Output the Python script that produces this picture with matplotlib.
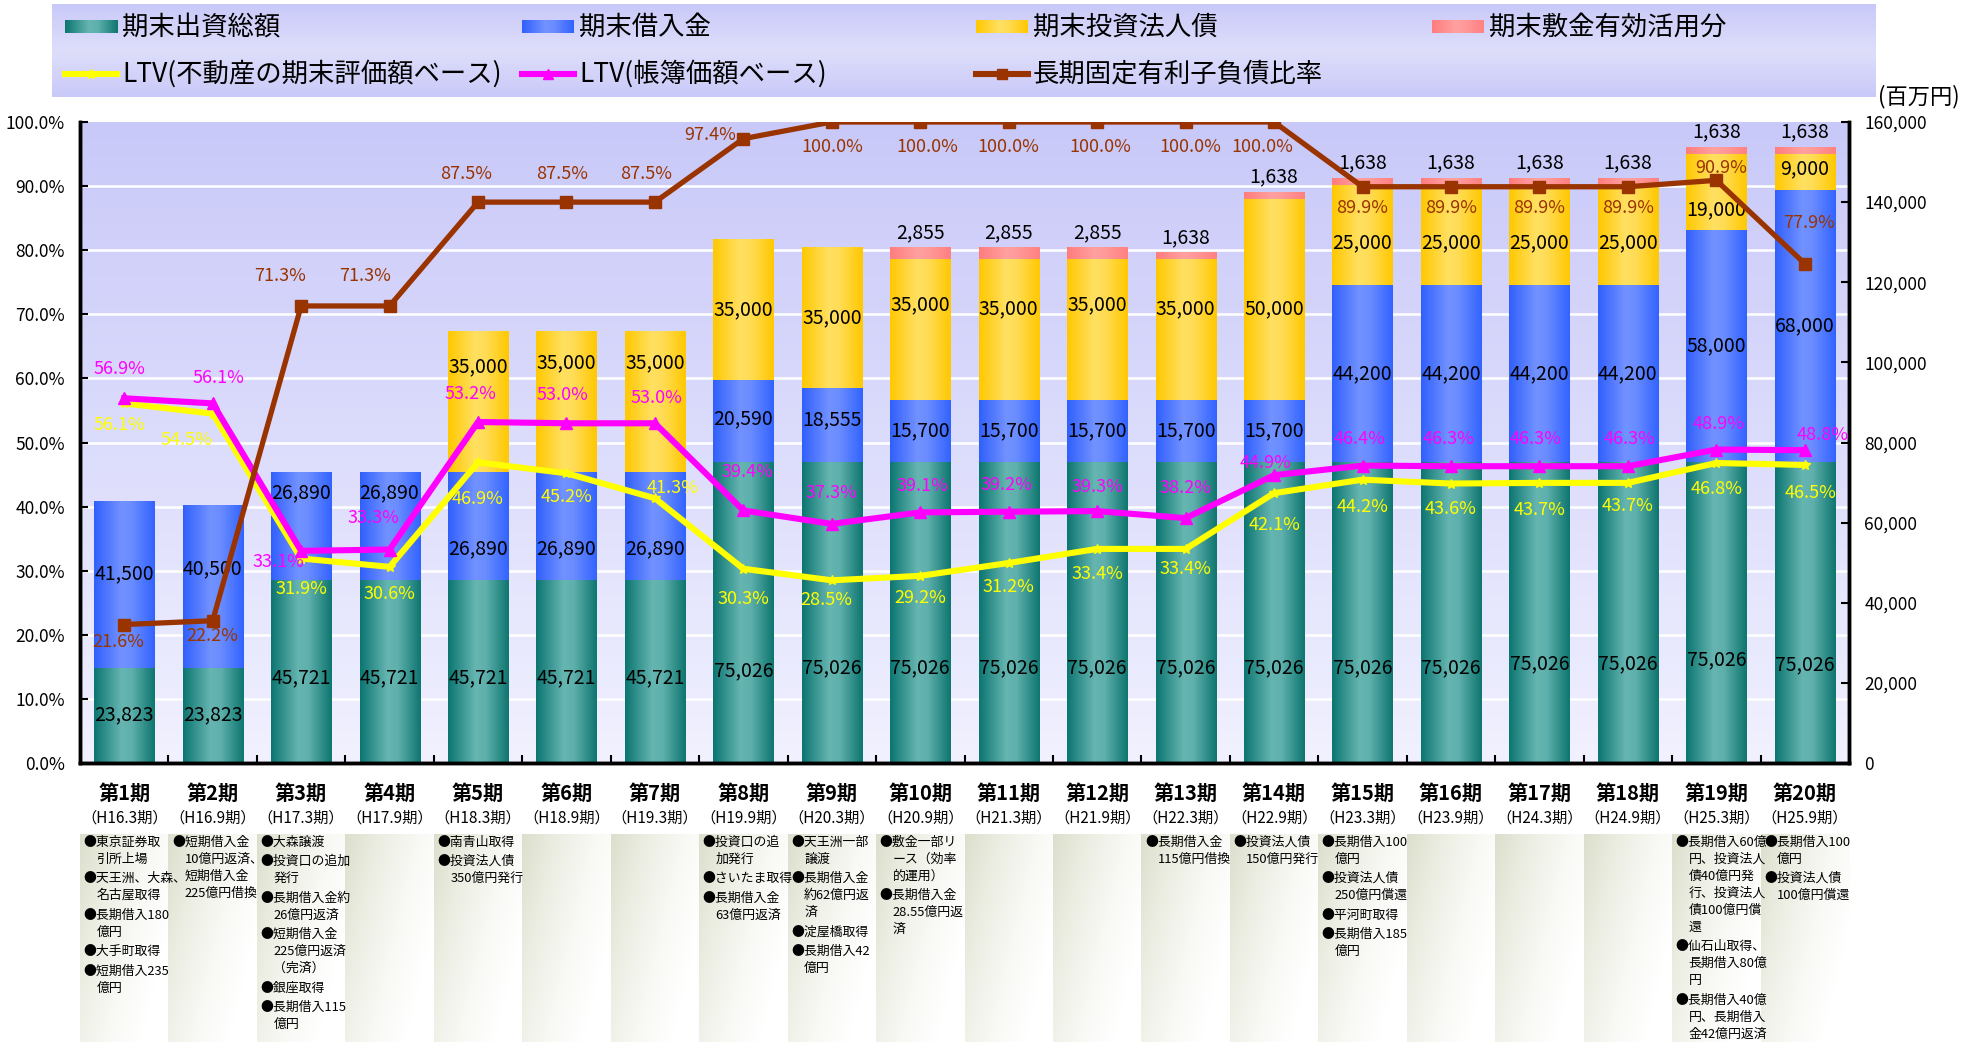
import numpy as np
import matplotlib
matplotlib.use('Agg')
import matplotlib.pyplot as plt
from matplotlib.colors import LinearSegmentedColormap
from matplotlib.ticker import FuncFormatter, MultipleLocator

plt.rcParams['font.family'] = ['Noto Sans CJK JP', 'DejaVu Sans']

# ---------------- data ----------------
periods = ['第1期', '第2期', '第3期', '第4期', '第5期', '第6期', '第7期', '第8期', '第9期', '第10期',
           '第11期', '第12期', '第13期', '第14期', '第15期', '第16期', '第17期', '第18期', '第19期', '第20期']
period_terms = ['（H16.3期）', '（H16.9期）', '（H17.3期）', '（H17.9期）', '（H18.3期）', '（H18.9期）',
                '（H19.3期）', '（H19.9期）', '（H20.3期）', '（H20.9期）', '（H21.3期）', '（H21.9期）',
                '（H22.3期）', '（H22.9期）', '（H23.3期）', '（H23.9期）', '（H24.3期）', '（H24.9期）',
                '（H25.3期）', '（H25.9期）']

equity = [23823, 23823, 45721, 45721, 45721, 45721, 45721, 75026, 75026, 75026,
          75026, 75026, 75026, 75026, 75026, 75026, 75026, 75026, 75026, 75026]
loans = [41500, 40500, 26890, 26890, 26890, 26890, 26890, 20590, 18555, 15700,
         15700, 15700, 15700, 15700, 44200, 44200, 44200, 44200, 58000, 68000]
bonds = [0, 0, 0, 0, 35000, 35000, 35000, 35000, 35000, 35000,
         35000, 35000, 35000, 50000, 25000, 25000, 25000, 25000, 19000, 9000]
deposits = [0, 0, 0, 0, 0, 0, 0, 0, 0, 2855,
            2855, 2855, 1638, 1638, 1638, 1638, 1638, 1638, 1638, 1638]

ltv_appraisal = [56.1, 54.5, 31.9, 30.6, 46.9, 45.2, 41.3, 30.3, 28.5, 29.2,
                 31.2, 33.4, 33.4, 42.1, 44.2, 43.6, 43.7, 43.7, 46.8, 46.5]
ltv_book = [56.9, 56.1, 33.1, 33.3, 53.2, 53.0, 53.0, 39.4, 37.3, 39.1,
            39.2, 39.3, 38.2, 44.9, 46.4, 46.3, 46.3, 46.3, 48.9, 48.8]
fixed_ratio = [21.6, 22.2, 71.3, 71.3, 87.5, 87.5, 87.5, 97.4, 100.0, 100.0,
               100.0, 100.0, 100.0, 100.0, 89.9, 89.9, 89.9, 89.9, 90.9, 77.9]

events = [
    "●東京証券取\n引所上場\n●天王洲、大森、\n名古屋取得\n●長期借入180\n億円\n●大手町取得\n●短期借入235\n億円",
    "●短期借入金\n10億円返済、\n短期借入金\n225億円借換",
    "●大森譲渡\n●投資口の追加\n発行\n●長期借入金約\n26億円返済\n●短期借入金\n225億円返済\n（完済）\n●銀座取得\n●長期借入115\n億円",
    "",
    "●南青山取得\n●投資法人債\n350億円発行",
    "",
    "",
    "●投資口の追\n加発行\n●さいたま取得\n●長期借入金\n63億円返済",
    "●天王洲一部\n譲渡\n●長期借入金\n約62億円返\n済\n●淀屋橋取得\n●長期借入42\n億円",
    "●敷金一部リ\nース（効率\n的運用）\n●長期借入金\n28.55億円返\n済",
    "",
    "",
    "●長期借入金\n115億円借換",
    "●投資法人債\n150億円発行",
    "●長期借入100\n億円\n●投資法人債\n250億円償還\n●平河町取得\n●長期借入185\n億円",
    "",
    "",
    "",
    "●長期借入60億\n円、投資法人\n債40億円発\n行、投資法人\n債100億円償\n還\n●仙石山取得、\n長期借入80億\n円\n●長期借入40億\n円、長期借入\n金42億円返済",
    "●長期借入100\n億円\n●投資法人債\n100億円償還",
]

legend_bars = ['期末出資総額', '期末借入金', '期末投資法人債', '期末敷金有効活用分']
legend_lines = ['LTV(不動産の期末評価額ベース)', 'LTV(帳簿価額ベース)', '長期固定有利子負債比率']

# label placement tweaks (percent of axis / category units)
equity_label_dy = [0, 0, -1, -1, -1, -1, -1, -9.0, -8.6, -8.6, -8.6, -8.6, -8.6, -8.6, -8.6, -8.6, -7.9, -7.9, -7.4, -8.2]
loan_label_dy = [1.7, 2.8, 5.1, 5.1, -3.6, -3.6, -3.6, 0.4, 0.8, 0, 0, 0, 0, 0, 0, 0, 0, 0, 0, 0]
bond_label_dy = [0, 0, 0, 0, 5.5, 6.1, 6.1, 0, 0, 3.9, 3.2, 3.9, 3.2, -1.4, -1.2, -1.2, -1.2, -1.2, -2.7, 0.5]
fixed_dy = [-2.7, -2.4, 4.7, 4.7, 4.4, 4.4, 4.4, 0.6, -3.9, -3.9, -3.9, -3.9, -3.9, -3.9, -3.3, -3.3, -3.3, -3.3, 1.9, 6.3]
fixed_dx = [-0.07, 0, -0.24, -0.28, -0.14, -0.05, -0.1, -0.37, 0, 0.08, 0, 0.03, 0.05, -0.13, 0, 0, 0, 0, 0.05, 0.05]
book_dy = [4.6, 4.0, -1.7, 4.9, 4.4, 4.4, 4.0, 6.0, 4.8, 4.1, 4.2, 3.8, 4.7, 1.9, 4.1, 4.2, 4.2, 4.2, 4.0, 2.4]
book_dx = [-0.05, 0.07, -0.26, -0.18, -0.08, -0.05, 0.02, 0.05, 0, 0.02, -0.03, 0, 0, -0.1, -0.03, -0.03, -0.04, 0.02, 0.03, 0.2]
appr_dy = [-3.4, -4.1, -4.8, -4.2, -5.7, -3.7, 1.6, -4.7, -3.1, -3.5, -3.8, -3.9, -3.2, -5.0, -4.3, -4.0, -4.2, -3.6, -4.1, -4.4]
appr_dx = [-0.05, -0.3, 0, 0, 0, 0, 0.2, 0, -0.06, 0, 0, 0, 0, 0, 0, 0, 0, 0, 0, 0.07]

# ---------------- styles ----------------
teal_stops = [(0, '#0b7570'), (0.45, '#66b5b1'), (0.62, '#5eb0ac'), (1, '#0e756f')]
blue_stops = [(0, '#305ffc'), (0.45, '#7292ff'), (0.62, '#6a8cff'), (1, '#3263ff')]
yellow_stops = [(0, '#ffc800'), (0.45, '#ffe062'), (0.62, '#ffdc55'), (1, '#ffc800')]
pink_stops = [(0, '#ff7c7c'), (0.45, '#ffa0a0'), (0.62, '#ff9a9a'), (1, '#ff8080')]
C_APPR, C_BOOK, C_FIX = '#ffff00', '#ff00ff', '#993300'

W, H = 1982, 1042
fig = plt.figure(figsize=(W / 100, H / 100), dpi=100)
L, R, T, B = 80, 1849, 122, 763
ax = fig.add_axes([L / W, 1 - B / H, (R - L) / W, (B - T) / H])
ax2 = ax.twinx()

n = len(periods)
x = np.arange(n)
YMAX = 160000
hg = np.linspace(0, 1, 256).reshape(1, -1)


def cmap_of(stops):
    return LinearSegmentedColormap.from_list('c', stops)


# background
bg = LinearSegmentedColormap.from_list('bg', ['#f1f1ff', '#dcdcfc', '#c9c9f9'])
ax.imshow(np.linspace(0, 1, 256).reshape(-1, 1), extent=[-0.5, n - 0.5, 0, YMAX], origin='lower',
          cmap=bg, aspect='auto', zorder=0)
for k in range(1, 10):
    ax.axhline(k * YMAX / 10, color='white', lw=1.8, zorder=0.5)

# stacked bars
bw = 0.68
bottom = np.zeros(n)
stacks = []
for vals, stops in [(equity, teal_stops), (loans, blue_stops), (bonds, yellow_stops), (deposits, pink_stops)]:
    v = np.array(vals, dtype=float)
    bars = ax.bar(x, v, bw, bottom=bottom, color='none', edgecolor='none', zorder=2)
    cm = cmap_of(stops)
    for p in bars:
        if p.get_height() <= 0:
            continue
        x0, y0 = p.get_x(), p.get_y()
        ax.imshow(hg, extent=[x0, x0 + p.get_width(), y0, y0 + p.get_height()], cmap=cm,
                  aspect='auto', zorder=2, interpolation='bilinear')
    stacks.append((v, bottom.copy()))
    bottom = bottom + v

PCT = YMAX / 100.0
lab_fs = 14
for (v, b), dys in zip(stacks[:3], [equity_label_dy, loan_label_dy, bond_label_dy]):
    for i in range(n):
        if v[i] <= 0:
            continue
        ax.text(x[i], b[i] + v[i] / 2 + dys[i] * PCT, f'{int(v[i]):,}', ha='center', va='center',
                fontsize=lab_fs, color='black', zorder=6)
v, b = stacks[3]
for i in range(n):
    if v[i] > 0:
        ax.text(x[i], b[i] + v[i] + 2.4 * PCT, f'{int(v[i]):,}', ha='center', va='center',
                fontsize=lab_fs, color='black', zorder=6)

# lines
ax2.plot(x, ltv_appraisal, color=C_APPR, lw=4.4, marker='*', ms=7, zorder=3)
ax2.plot(x, ltv_book, color=C_BOOK, lw=4.4, marker='^', ms=8, zorder=4)
ax2.plot(x, fixed_ratio, color=C_FIX, lw=3.8, marker='s', ms=8, zorder=5)

pfs = 13
for vals, dys, dxs, col in [(ltv_appraisal, appr_dy, appr_dx, C_APPR), (ltv_book, book_dy, book_dx, C_BOOK),
                            (fixed_ratio, fixed_dy, fixed_dx, C_FIX)]:
    for i in range(n):
        ax2.text(x[i] + dxs[i], vals[i] + dys[i], f'{vals[i]:.1f}%', ha='center', va='center',
                 fontsize=pfs, color=col, zorder=10)

# axes styling
ax.set_xlim(-0.5, n - 0.5)
ax.set_ylim(0, YMAX)
ax2.set_ylim(0, 100)
ax.yaxis.tick_right()
ax.yaxis.set_major_locator(MultipleLocator(20000))
ax.yaxis.set_major_formatter(FuncFormatter(lambda v, p: f'{int(v):,}'))
ax2.yaxis.tick_left()
ax2.yaxis.set_major_locator(MultipleLocator(10))
ax2.yaxis.set_major_formatter(FuncFormatter(lambda v, p: f'{v:.1f}%'))
for a in (ax, ax2):
    a.tick_params(axis='y', direction='in', length=6, width=1.5, labelsize=12.5, pad=11)
    a.spines['top'].set_visible(False)
    for s in ('left', 'right', 'bottom'):
        a.spines[s].set_linewidth(2.5)
        a.spines[s].set_color('black')
ax.set_xticks(x)
ax.set_xticks(np.arange(0.5, n - 0.5, 1), minor=True)
ax.tick_params(axis='x', which='major', length=0, labelbottom=False)
ax.tick_params(axis='x', which='minor', direction='in', length=6, width=1.5)

fig.text(1960 / W, 1 - 97 / H, '(百万円)', ha='right', va='center', fontsize=16)

# category labels and event notes
annax = fig.add_axes([L / W, 0, (R - L) / W, (H - 770) / H])
annax.axis('off')
colcm = LinearSegmentedColormap.from_list('col', ['#dcdfcc', '#eceee3', '#f8f8f4', '#ffffff'])
gx, gy = np.meshgrid(np.linspace(0, 1, 80), np.linspace(0, 1, 120))
col_grad = np.clip(0.8 * gx + 0.45 * gy, 0, 1)
for i in range(n):
    annax.imshow(col_grad, extent=[i - 0.5, i + 0.5, H, 834], origin='upper', cmap=colcm,
                 vmin=0, vmax=1, aspect='auto', zorder=0, interpolation='bilinear')
annax.set_xlim(-0.5, n - 0.5)
annax.set_ylim(H, 770)
note_fs = 9.3
indent = note_fs * 100 / 72 / ((R - L) / n)   # one em, in category units
for i in range(n):
    annax.text(i, 793, periods[i], ha='center', va='center', fontsize=14.5, fontweight='bold')
    annax.text(i, 818, period_terms[i], ha='center', va='center', fontsize=11)
    if events[i]:
        yy = 842.0
        for j, line in enumerate(events[i].split('\n')):
            bullet = line.startswith('●')
            if j > 0:
                yy += 19.5 if bullet else 17.0
            xx = i - 0.5 + 0.04 + (0 if bullet else indent)
            annax.text(xx, yy, line, ha='left', va='center', fontsize=note_fs)

# legend box
lx0, lx1, ly0, ly1 = 52, 1875, 4, 97
legax = fig.add_axes([lx0 / W, 1 - ly1 / H, (lx1 - lx0) / W, (ly1 - ly0) / H])
legax.axis('off')
lg = LinearSegmentedColormap.from_list('lg', ['#c9c9f9', '#dedefb', '#c9c9f9'])
legax.imshow(np.linspace(0, 1, 256).reshape(-1, 1), extent=[lx0, lx1, ly1, ly0], cmap=lg, aspect='auto', zorder=0)
row1, row2 = 27, 74
cols = [65, 522, 976, 1432]
for cx, label, stops in zip(cols, legend_bars, [teal_stops, blue_stops, yellow_stops, pink_stops]):
    legax.imshow(hg, extent=[cx, cx + 52, row1 + 6.5, row1 - 6.5], cmap=cmap_of(stops), aspect='auto', zorder=1)
    legax.text(cx + 57, row1, label, ha='left', va='center', fontsize=19)
for cx, label, col, mk in zip(cols[:3], legend_lines, [C_APPR, C_BOOK, C_FIX], ['*', '^', 's']):
    legax.plot([cx, cx + 52], [row2, row2], color=col, lw=4.4, zorder=2)
    legax.plot([cx + 26], [row2], color=col, marker=mk, ms=7, zorder=3)
    legax.text(cx + 57, row2, label, ha='left', va='center', fontsize=19)
legax.set_xlim(lx0, lx1)
legax.set_ylim(ly1, ly0)

fig.savefig('out.png', dpi=100)
